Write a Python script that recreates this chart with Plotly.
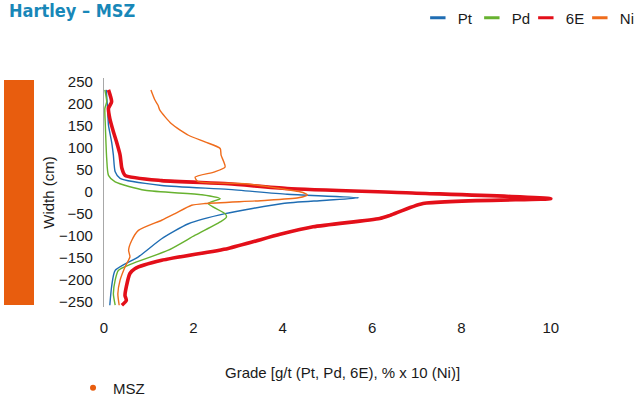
import plotly.graph_objects as go

# --- data ---
pt_width = [232, 190, 152, 114, 84, 46, 31, 15, 6, -5, -13, -19, -26, -49, -72, -106, -147, -178, -215, -257]
pt_grade = [0.05, 0.08, 0.10, 0.17, 0.21, 0.25, 0.36, 1.29, 2.78, 4.1, 5.7, 4.9, 4.0, 2.71, 1.89, 1.29, 0.77, 0.25, 0.17, 0.13]

pd_width = [232, 205, 190, 152, 77, 38, 23, 4, -6, -15, -26, -49, -57, -66, -98, -132, -163, -178, -200, -231, -257]
pd_grade = [0.02, 0.06, 0.02, 0.03, 0.06, 0.10, 0.25, 0.92, 2.19, 2.6, 2.33, 2.71, 2.74, 2.63, 2.04, 1.44, 0.62, 0.32, 0.25, 0.21, 0.25]

e6_width = [232, 205, 190, 167, 137, 114, 84, 54, 38, 26, 19, 8, -2, -15, -26, -53, -60, -79, -96, -128, -155, -174, -185, -215, -235, -246, -257]
e6_grade = [0.10, 0.17, 0.10, 0.13, 0.21, 0.28, 0.36, 0.40, 0.47, 1.29, 2.78, 4.1, 6.9, 10.0, 7.14, 6.4, 6.17, 4.68, 3.94, 2.78, 1.29, 0.69, 0.58, 0.50, 0.47, 0.50, 0.40]

ni_width = [232, 209, 197, 186, 155, 129, 114, 99, 84, 57, 46, 34, 24, 19, 8, -1, -7, -13, -19, -26, -30, -49, -64, -87, -110, -132, -147, -170, -200, -231, -257]
ni_grade = [1.05, 1.14, 1.21, 1.25, 1.51, 1.89, 2.26, 2.6, 2.62, 2.71, 2.48, 2.04, 2.1, 3.15, 3.94, 4.45, 4.55, 4.35, 3.6, 2.26, 1.96, 1.59, 1.29, 0.77, 0.62, 0.55, 0.58, 0.47, 0.36, 0.31, 0.34]

msz_top = 255
msz_base = -257

x_ticks = [0, 2, 4, 6, 8, 10]
y_ticks = [250, 200, 150, 100, 50, 0, -50, -100, -150, -200, -250]

colors = {"Pt": "#1f6db3", "Pd": "#67b22f", "6E": "#e30f19", "Ni": "#ef6c1c"}
widths = {"Pt": 1.4, "Pd": 1.4, "6E": 3.6, "Ni": 1.4}
series = {
    "Pt": (pt_grade, pt_width),
    "Pd": (pd_grade, pd_width),
    "6E": (e6_grade, e6_width),
    "Ni": (ni_grade, ni_width),
}

FONT = "Liberation Sans, Arial, sans-serif"
W, H = 635, 397

fig = go.Figure()

# MSZ zone column on its own little x axis
fig.add_trace(go.Bar(
    x=["MSZ"], y=[msz_top - msz_base], base=[msz_base],
    xaxis="x2", yaxis="y", width=1,
    marker=dict(color="#e85d0e", line=dict(width=0)),
    showlegend=False, hoverinfo="skip",
))

for name, (g, w) in series.items():
    fig.add_trace(go.Scatter(
        x=g, y=w, mode="lines", name=name,
        line=dict(color=colors[name], width=widths[name], shape="spline", smoothing=0.6),
        showlegend=False,
    ))

# legend entries drawn as short thick dashes
for name in series:
    fig.add_trace(go.Scatter(
        x=[None], y=[None], mode="markers", name=name,
        marker=dict(symbol="line-ew-open", size=11, color=colors[name],
                    line=dict(color=colors[name], width=3)),
        legend="legend",
    ))

fig.add_trace(go.Scatter(
    x=[None], y=[None], mode="markers", name="MSZ",
    marker=dict(symbol="circle", size=6, color="#e85d0e"),
    legend="legend2",
))

fig.update_layout(
    width=W, height=H,
    margin=dict(l=0, r=0, t=0, b=0, autoexpand=False),
    paper_bgcolor="white", plot_bgcolor="white",
    font=dict(family=FONT, size=15, color="#1a1a1a"),
    xaxis=dict(
        domain=[104 / W, 562 / W], range=[0, 10.25],
        tickvals=x_ticks, showgrid=False, zeroline=False, showline=False,
        ticks="", ticklabelstandoff=10, tickfont=dict(size=15),
    ),
    yaxis=dict(
        domain=[1 - 307 / H, 1 - 78 / H], range=[-261, 259],
        tickvals=y_ticks, showgrid=False, zeroline=False,
        showline=True, linecolor="#a8a8a8", linewidth=1.2,
        ticks="", ticklabelstandoff=7, tickfont=dict(size=15),
        title=dict(text="Width (cm)", font=dict(size=15), standoff=0),
    ),
    xaxis2=dict(
        domain=[4 / W, 34 / W], range=[-0.5, 0.5], anchor="y",
        visible=False,
    ),
    legend=dict(
        orientation="h", x=0.658, y=1 - 18 / H, xanchor="left", yanchor="middle",
        font=dict(size=15), bgcolor="rgba(0,0,0,0)", itemwidth=30,
        entrywidth=9,
    ),
    legend2=dict(
        orientation="h", x=0.115, y=1 - 388 / H, xanchor="left", yanchor="middle",
        font=dict(size=15), bgcolor="rgba(0,0,0,0)", itemwidth=30,
    ),
    bargap=0,
)

fig.add_annotation(
    text="<b>Hartley – MSZ</b>", xref="paper", yref="paper",
    x=7 / W, y=1 - 10 / H, xanchor="left", yanchor="middle", showarrow=False,
    font=dict(family="DejaVu Sans Condensed, DejaVu Sans, sans-serif",
              size=18, color="#1887b8"),
)
fig.add_annotation(
    text="Grade [g/t (Pt, Pd, 6E), % x 10 (Ni)]", xref="paper", yref="paper",
    x=343 / W, y=1 - 372 / H, xanchor="center", yanchor="middle", showarrow=False,
    font=dict(size=15),
)

fig.write_html("out.html", config={"displayModeBar": False},
               post_script="document.body.style.margin = '0';")
